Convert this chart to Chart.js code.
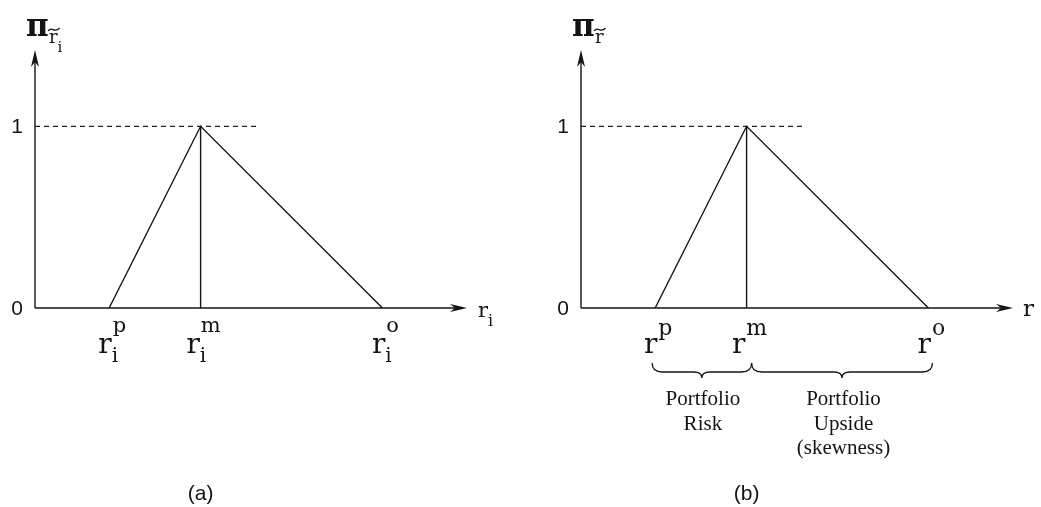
<!DOCTYPE html>
<html lang="en">
<head>
    <meta charset="UTF-8">
    <title>Possibility distributions of returns</title>
    <script src="https://cdn.jsdelivr.net/npm/chart.js"></script>
    <style>
        body {
            margin: 0;
            background: #fff;
            overflow: hidden;
        }
        .panel {
            position: absolute;
            top: 0;
        }
    </style>
</head>
<body>
    <canvas id="chartA" class="panel" width="520" height="507" style="left:0"></canvas>
    <canvas id="chartB" class="panel" width="521" height="507" style="left:520px"></canvas>

    <script>
        // triangular possibility distribution: pessimistic, most possible, optimistic return
        const xMax = 12;
        const yMax = 1.42;
        const rPoints = [2.06, 4.6, 9.65];
        const membership = [0, 1, 0];
        const dashEnd = 6.25;
        const supLabels = ['p', 'm', 'o'];
        const yTicks = [0, 1];
        const panelNames = ['(a)', '(b)'];
        const riskNote = ['Portfolio', 'Risk'];
        const upsideNote = ['Portfolio', 'Upside', '(skewness)'];

        const ink = '#141414';
        const serif = '"DejaVu Serif", serif';
        const sans = '"Liberation Sans", Arial, sans-serif';

        function arrowHead(ctx, x, y, dir) {
            // dir: 'up' or 'right', dart shaped head
            ctx.save();
            ctx.translate(x, y);
            if (dir === 'up') ctx.rotate(-Math.PI / 2);
            ctx.beginPath();
            ctx.moveTo(0, 0);
            ctx.lineTo(-17, -4);
            ctx.lineTo(-12, 0);
            ctx.lineTo(-17, 4);
            ctx.closePath();
            ctx.fill();
            ctx.restore();
        }

        function rLabel(ctx, cx, baseY, sup, sub, opt) {
            ctx.font = opt.base + 'px ' + serif;
            let wr = ctx.measureText('r').width;
            ctx.font = opt.sup + 'px ' + serif;
            let ws = sup ? ctx.measureText(sup).width : 0;
            ctx.font = opt.sub + 'px ' + serif;
            let wb = sub ? ctx.measureText(sub).width : 0;
            let total = wr + 1 + Math.max(ws, wb);
            let x = cx - total / 2 + (opt.shift || 0);

            ctx.textAlign = 'left';
            ctx.textBaseline = 'alphabetic';
            ctx.font = opt.base + 'px ' + serif;
            ctx.fillText('r', x, baseY);
            if (sup) {
                ctx.font = opt.sup + 'px ' + serif;
                ctx.fillText(sup, x + wr + 1, opt.supY);
            }
            if (sub) {
                ctx.font = opt.sub + 'px ' + serif;
                ctx.fillText(sub, x + wr, opt.subY);
            }
        }

        function brace(ctx, xa, xb, yTop) {
            let yMid = yTop + 9;
            let yTip = yTop + 15;
            let mid = (xa + xb) / 2;
            ctx.beginPath();
            ctx.moveTo(xa, yTop);
            ctx.quadraticCurveTo(xa, yMid, xa + 10, yMid);
            ctx.lineTo(mid - 8, yMid);
            ctx.quadraticCurveTo(mid, yMid, mid, yTip);
            ctx.quadraticCurveTo(mid, yMid, mid + 8, yMid);
            ctx.lineTo(xb - 10, yMid);
            ctx.quadraticCurveTo(xb, yMid, xb, yTop);
            ctx.stroke();
        }

        function makePanel(canvasId, p) {
            let figure = {
                id: 'figure_' + canvasId,
                beforeDatasetsDraw(chart) {
                    let ctx = chart.ctx;
                    let xs = chart.scales.x, ys = chart.scales.y;
                    let x0 = xs.getPixelForValue(0), y0 = ys.getPixelForValue(0);
                    let xEnd = xs.getPixelForValue(xMax), yEnd = ys.getPixelForValue(yMax);
                    ctx.save();
                    ctx.strokeStyle = ink;
                    ctx.fillStyle = ink;
                    ctx.lineWidth = 1.4;
                    ctx.beginPath();
                    ctx.moveTo(x0, y0);
                    ctx.lineTo(xEnd - 12, y0);
                    ctx.moveTo(x0, y0);
                    ctx.lineTo(x0, yEnd + 12);
                    ctx.stroke();
                    arrowHead(ctx, xEnd, y0, 'right');
                    arrowHead(ctx, x0, yEnd, 'up');
                    ctx.restore();
                },
                afterDraw(chart) {
                    let ctx = chart.ctx;
                    let xs = chart.scales.x, ys = chart.scales.y;
                    let x0 = xs.getPixelForValue(0);
                    let xEnd = xs.getPixelForValue(xMax);
                    ctx.save();
                    ctx.fillStyle = ink;
                    ctx.strokeStyle = ink;

                    // y ticks
                    ctx.font = '21px ' + sans;
                    ctx.textAlign = 'center';
                    ctx.textBaseline = 'middle';
                    yTicks.forEach(v => ctx.fillText(String(v), x0 - 18, ys.getPixelForValue(v) + 1));

                    // x tick labels r^p, r^m, r^o
                    rPoints.forEach((v, i) => {
                        rLabel(ctx, xs.getPixelForValue(v), 353, supLabels[i], p.sub,
                            { base: 28, sup: p.supSize, sub: 20, supY: p.supY, subY: 362, shift: 3 });
                    });

                    // axis name
                    rLabel(ctx, xEnd + p.axisGap, p.axisY, '', p.sub,
                        { base: p.axisSize, sup: 16, sub: 16, supY: 0, subY: p.axisY + 9 });

                    // pi label above the y axis
                    ctx.textAlign = 'left';
                    ctx.textBaseline = 'alphabetic';
                    ctx.font = 'bold 31px ' + serif;
                    ctx.fillText('\u03c0', x0 - 9, 36);
                    let rx = x0 + 14;
                    ctx.font = '18px ' + serif;
                    ctx.fillText('r', rx, 43);
                    let rw = ctx.measureText('r').width;
                    ctx.lineWidth = 1.2;
                    ctx.beginPath();
                    ctx.moveTo(rx - 1, 31);
                    ctx.bezierCurveTo(rx + rw * 0.35, 25.5, rx + rw * 0.6, 34, rx + rw + 2, 28);
                    ctx.stroke();
                    if (p.sub) {
                        ctx.font = '15px ' + serif;
                        ctx.fillText(p.sub, rx + rw, 52);
                    }

                    // braces and notes under the axis
                    if (p.notes) {
                        let xp = xs.getPixelForValue(rPoints[0]);
                        let xm = xs.getPixelForValue(rPoints[1]);
                        let xo = xs.getPixelForValue(rPoints[2]);
                        ctx.lineWidth = 1.3;
                        brace(ctx, xp - 3, xm + 5, 363);
                        brace(ctx, xm + 5, xo + 4, 363);
                        ctx.font = '21px "Liberation Serif", "Times New Roman", serif';
                        ctx.textAlign = 'center';
                        riskNote.forEach((t, i) => ctx.fillText(t, (xp + xm) / 2 + 2, 405 + i * 24.5));
                        upsideNote.forEach((t, i) => ctx.fillText(t, (xm + xo) / 2 + 6, 405 + i * 24.5));
                    }

                    // panel caption
                    ctx.font = '21px ' + sans;
                    ctx.textAlign = 'center';
                    ctx.fillText(p.name, xs.getPixelForValue(rPoints[1]), 500);
                    ctx.restore();
                }
            };

            return new Chart(document.getElementById(canvasId), {
                type: 'scatter',
                data: {
                    datasets: [
                        {
                            data: rPoints.map((v, i) => ({ x: v, y: membership[i] })),
                            showLine: true,
                            borderColor: ink,
                            borderWidth: 1.4,
                            pointRadius: 0,
                            clip: false
                        },
                        {
                            data: [{ x: rPoints[1], y: 0 }, { x: rPoints[1], y: membership[1] }],
                            showLine: true,
                            borderColor: ink,
                            borderWidth: 1.4,
                            pointRadius: 0,
                            clip: false
                        },
                        {
                            data: [{ x: 0, y: 1 }, { x: dashEnd, y: 1 }],
                            showLine: true,
                            borderColor: '#222',
                            borderWidth: 1.2,
                            borderDash: [5, 4],
                            pointRadius: 0,
                            clip: false
                        }
                    ]
                },
                options: {
                    responsive: false,
                    devicePixelRatio: 1,
                    animation: false,
                    layout: { padding: p.padding },
                    scales: {
                        x: { type: 'linear', min: 0, max: xMax, display: false },
                        y: { type: 'linear', min: 0, max: yMax, display: false }
                    },
                    plugins: {
                        legend: { display: false },
                        tooltip: { enabled: false }
                    }
                },
                plugins: [figure]
            });
        }

        makePanel('chartA', {
            name: panelNames[0],
            sub: 'i',
            supSize: 21,
            supY: 332,
            axisGap: 19,
            axisY: 317,
            axisSize: 21,
            notes: false,
            padding: { left: 35, right: 53, top: 50, bottom: 199 }
        });

        makePanel('chartB', {
            name: panelNames[1],
            sub: '',
            supSize: 22,
            supY: 335,
            axisGap: 16,
            axisY: 316,
            axisSize: 23,
            notes: true,
            padding: { left: 61, right: 28, top: 50, bottom: 199 }
        });
    </script>
</body>
</html>
